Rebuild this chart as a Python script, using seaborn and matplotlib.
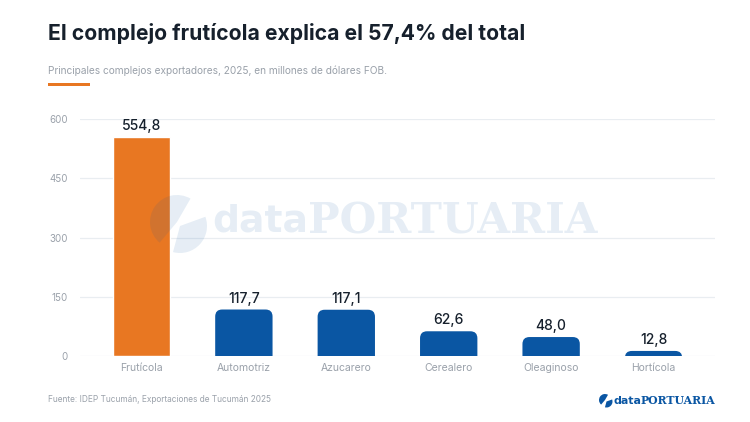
import matplotlib
matplotlib.use("Agg")
import matplotlib.pyplot as plt
from matplotlib.patches import FancyBboxPatch, Wedge, Rectangle
import seaborn as sns
import pandas as pd

# datos del gráfico
categorias = ["Frutícola", "Automotriz", "Azucarero", "Cerealero", "Oleaginoso", "Hortícola"]
valores = [554.8, 117.7, 117.1, 62.6, 48.0, 12.8]
etiquetas = ["554,8", "117,7", "117,1", "62,6", "48,0", "12,8"]
ticks_y = [0, 150, 300, 450, 600]

naranja = "#E87722"
azul = "#0A56A3"
gris = "#9AA1AA"
oscuro = "#16202C"

sns.set_theme(style="white")
plt.rcParams["font.family"] = ["Inter", "DejaVu Sans"]

df = pd.DataFrame({"complejo": categorias, "valor": valores})
colores = [naranja] + [azul] * (len(categorias) - 1)

fig = plt.figure(figsize=(7.5, 4.22), dpi=100)
W, H = 750, 422
ax = fig.add_axes([80 / W, 1 - 356 / H, (715 - 80) / W, (356 - 119) / H])

sns.barplot(data=df, x="complejo", y="valor", hue="complejo", palette=colores,
            saturation=1, width=0.56, legend=False, ax=ax, zorder=2)

ax.set_xlim(-0.6, len(categorias) - 0.4)
ax.set_ylim(0, 600)

# barras azules con esquinas superiores redondeadas
px_x = (715 - 80) / (len(categorias) + 0.2)
px_y = (356 - 119) / 600
radio_px = 7
r_x = radio_px / px_x
aspecto = (radio_px / px_y) / r_x
for i, p in enumerate(list(ax.patches)):
    if i == 0:
        continue
    x0, w, h = p.get_x(), p.get_width(), p.get_height()
    p.remove()
    extra = radio_px / px_y
    nueva = FancyBboxPatch((x0, -extra), w, h + extra,
                           boxstyle=f"round,pad=0,rounding_size={r_x}",
                           mutation_aspect=aspecto, facecolor=azul,
                           edgecolor="none", zorder=2, clip_on=True)
    ax.add_patch(nueva)

for i, (v, t) in enumerate(zip(valores, etiquetas)):
    ax.text(i, v + 10, t, ha="center", va="bottom", fontsize=10,
            fontweight="medium", color=oscuro, zorder=4)

ax.set_yticks(ticks_y)
ax.set_yticklabels([str(t) for t in ticks_y])
ax.grid(axis="y", color="#E9EDF1", linewidth=0.9, zorder=0)
ax.grid(axis="x", visible=False)
for s in ax.spines.values():
    s.set_visible(False)
ax.tick_params(axis="y", length=0, pad=9, labelsize=7, labelcolor=gris)
ax.tick_params(axis="x", length=0, pad=5, labelsize=7.5, labelcolor=gris)
ax.set_xlabel("")
ax.set_ylabel("")

# títulos
fig.text(48 / W, 1 - 33 / H, "El complejo frutícola explica el 57,4% del total",
         fontsize=15.2, fontweight="bold", color=oscuro, va="center", ha="left")
fig.text(48 / W, 1 - 71 / H, "Principales complejos exportadores, 2025, en millones de dólares FOB.",
         fontsize=7.3, color=gris, va="center", ha="left")
fig.add_artist(Rectangle((48 / W, 1 - 86 / H), 42 / W, 3 / H,
                         transform=fig.transFigure, color=naranja, lw=0))

# marca de agua
fig.canvas.draw()
rend = fig.canvas.get_renderer()

def texto_ancho(x, y, s, ancho, familia, peso, color, alpha, z=5, ha="left"):
    t = fig.text(x / W, 1 - y / H, s, fontsize=20, family=familia, fontweight=peso,
                 color=color, alpha=alpha, va="center", ha=ha, zorder=z)
    bb = t.get_window_extent(renderer=rend)
    t.set_fontsize(20 * ancho / bb.width)
    return t

texto_ancho(308, 222, "data", 96, ["DejaVu Sans"], "bold", azul, 0.1, ha="right")
texto_ancho(308, 222, "PORTUARIA", 289, ["DejaVu Serif"], "bold", azul, 0.1)
rr = 27
fig.add_artist(Wedge((177, H - 222), rr, 60, 230, width=rr, transform=None,
                     color=azul, alpha=0.1, lw=0))
fig.add_artist(Wedge((180, H - 226), rr, 255, 20, width=rr, transform=None,
                     color=azul, alpha=0.1, lw=0))

# pie
fig.text(48 / W, 1 - 400 / H, "Fuente: IDEP Tucumán, Exportaciones de Tucumán 2025",
         fontsize=6, color=gris, va="center", ha="left")
texto_ancho(641, 401, "data", 28, ["DejaVu Sans"], "bold", azul, 1.0, ha="right")
texto_ancho(641, 401, "PORTUARIA", 75, ["DejaVu Serif"], "bold", azul, 1.0)
fig.add_artist(Wedge((605, H - 400), 6, 60, 230, width=6, transform=None, color=azul, lw=0))
fig.add_artist(Wedge((606.5, H - 401.5), 6, 255, 20, width=6, transform=None, color=azul, lw=0))

fig.savefig("out.png", dpi=100)
